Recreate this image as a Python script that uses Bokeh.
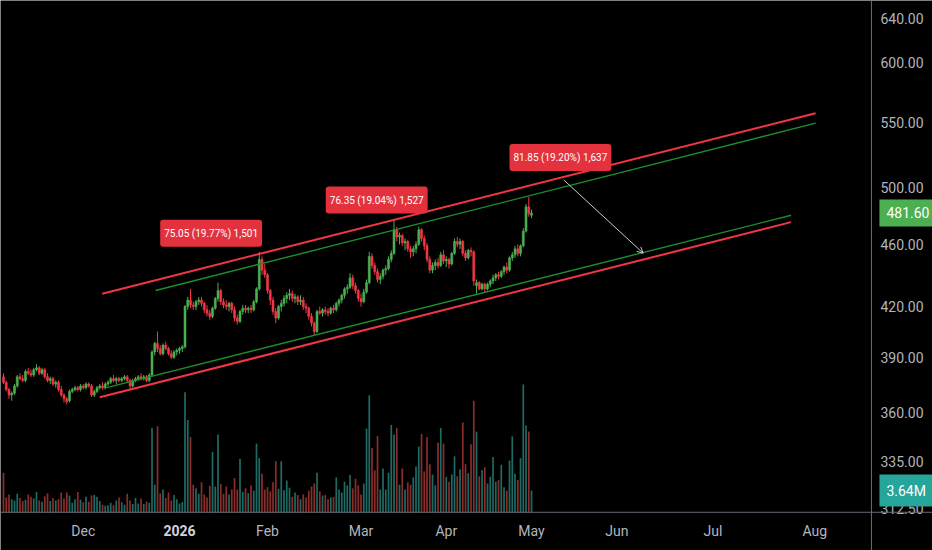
from bokeh.plotting import figure
from bokeh.models import (Range1d, FixedTicker, Label, Arrow, OpenHead, LinearScale, Span,
                          ColumnDataSource, PrintfTickFormatter)
from bokeh.embed import file_html
from bokeh.resources import INLINE

# ---------------- data ----------------
opens = [379,376,372,369,370,374,379,378,377,382,381,380,383,384,381,383,379,377,378,375,
         376,372,369,367,366,371,372,373,372,374,373,375,374,369,371,373,374,373,375,376,
         378,377,378,377,378,379,377,374,377,378,379,378,379,377,380,393,398,395,392,397,
         395,392,390,393,394,395,396,420,424,421,420,423,424,422,418,416,414,419,425,430,
         423,421,420,422,418,413,411,417,419,418,419,418,423,431,450,443,440,430,424,417,
         413,420,422,425,427,428,425,426,423,424,420,419,414,410,405,417,416,418,417,416,
         419,418,422,424,427,431,432,438,433,430,425,423,429,435,452,446,442,437,439,443,
         444,450,454,470,465,466,461,462,457,455,457,460,470,464,459,450,443,446,448,446,
         453,449,450,447,454,462,460,462,454,451,456,455,433,435,431,434,431,434,436,438,
         440,439,442,445,443,451,453,457,454,459,469,486,480]
highs = [381,377,373,371,375,380,381,380,383,384,383,384,386,385,384,384,381,379,379,377,
         377,374,370,368,372,373,374,374,375,375,376,376,375,372,374,375,376,376,377,379,
         380,379,379,379,380,380,378,378,379,380,381,380,380,381,394,399,405,397,398,399,
         396,394,394,395,396,397,421,426,431,423,424,426,426,423,421,418,420,426,435,431,
         425,424,423,423,420,415,418,421,421,420,421,424,432,455,452,447,441,431,426,419,
         421,424,427,429,431,430,428,427,427,426,422,420,416,411,418,420,419,420,419,420,
         421,423,425,428,432,434,441,440,435,431,428,431,437,455,454,448,444,441,444,446,
         452,456,477,472,468,467,464,463,459,459,462,472,471,466,461,452,448,450,451,455,
         456,452,451,455,464,465,464,463,456,457,458,456,437,436,435,435,435,437,440,441,
         442,443,446,448,452,455,459,460,460,471,488,493,484]
lows = [375,371,367,366,369,373,377,376,376,380,379,379,382,380,380,378,376,375,374,373,
        371,368,365,364,365,370,371,371,371,372,372,373,368,368,370,372,372,372,374,375,
        376,375,376,376,377,376,372,373,376,377,377,377,376,376,379,391,393,391,391,394,
        391,389,389,391,392,393,395,418,419,418,418,421,420,416,414,412,413,418,423,421,
        419,418,417,416,411,409,410,415,416,416,416,417,422,430,440,438,428,421,415,410,
        412,417,420,422,424,423,422,421,421,418,416,412,408,403,404,415,414,415,414,415,
        416,417,420,422,425,428,431,431,428,423,420,422,428,434,444,440,435,434,437,440,
        443,448,453,462,460,459,456,455,451,452,454,459,462,456,448,441,441,443,444,445,
        447,445,444,446,453,458,457,452,449,450,452,433,428,430,430,429,430,432,434,436,
        437,438,440,441,442,449,451,452,452,458,468,479,478]
closes = [376,372,369,370,374,379,378,377,382,381,380,383,384,381,383,379,377,378,375,376,
          372,369,367,365.5,371,372,373,372,374,373,375,374,369,371,373,374,373,375,376,378,
          377,378,377,378,379,377,374,377,378,379,378,379,377,380,393,398,395,392,397,395,
          392,390,393,394,395,396,420,424,421,420,423,424,422,418,416,414,419,425,430,423,
          421,420,422,418,413,411,417,419,418,419,418,423,431,450,443,440,430,424,417,413,
          420,422,425,427,428,425,426,423,424,420,419,414,410,405,417,416,418,417,416,419,
          418,422,424,427,431,432,438,433,430,425,423,429,435,452,446,442,437,439,443,444,
          450,454,470,465,466,461,462,457,455,457,460,470,464,459,450,443,446,448,446,453,
          449,450,447,454,462,460,462,454,451,456,455,436,435,431,434,431,434,436,438,440,
          439,442,445,443,451,453,457,454,459,469,486,481,481.6]
volumes_m = [6.6,2.5,3.0,2.2,2.0,3.1,2.4,1.9,2.1,3.0,2.6,2.3,3.4,2.0,1.8,2.7,3.2,1.9,2.4,2.0,
             2.2,3.3,2.3,3.3,2.8,1.6,2.2,3.4,2.1,1.7,2.6,1.8,2.8,2.9,2.6,1.9,1.3,1.1,1.2,1.6,
             1.2,2.0,2.5,1.7,1.3,3.1,2.0,1.4,2.4,1.5,2.3,1.4,1.8,1.6,14.0,4.6,14.3,3.2,3.8,2.4,
             3.3,2.0,2.9,2.2,1.5,1.7,19.9,15.3,12.5,4.6,4.0,3.1,5.0,3.0,2.5,4.4,10.0,4.3,12.9,4.7,
             3.1,4.3,3.0,3.8,5.7,3.8,8.9,3.4,4.0,3.2,4.5,3.6,11.4,9.0,6.4,3.8,4.2,3.5,5.0,8.5,
             3.9,8.5,3.7,5.3,4.1,2.6,3.3,2.9,2.2,3.0,2.5,3.6,4.3,4.8,6.6,3.5,2.8,2.9,2.2,2.5,
             2.6,5.8,3.8,3.3,5.1,4.5,6.2,4.0,5.6,4.5,3.0,4.8,13.9,19.4,10.7,7.0,12.7,3.8,7.3,3.8,
             6.6,14.5,12.9,14.0,4.6,7.3,3.8,5.0,4.6,5.8,7.6,10.9,13.0,6.8,12.5,8.0,6.3,4.5,11.6,14.0,
             11.4,5.9,5.1,6.3,9.3,6.0,7.1,14.9,8.0,6.5,11.3,18.5,13.4,6.0,7.0,7.5,4.8,5.9,9.2,5.1,
             5.4,7.9,4.2,3.6,8.6,12.6,6.4,5.4,9.0,21.2,14.4,13.4,3.64]

month_tick_bars = [29, 64, 96, 130, 161, 192, 223, 258, 295]
month_labels = ["Dec", "2026", "Feb", "Mar", "Apr", "May", "Jun", "Jul", "Aug"]
price_ticks = [312.5, 335, 360, 390, 420, 460, 500, 550, 600, 640]

# channel lines: (bar index pair, price pair)
red_upper_x, red_upper_y = [35.9, 295.3], [428.0, 557.2]
green_upper_x, green_upper_y = [55.3, 295.3], [430.0, 549.2]
green_lower_x, green_lower_y = [37.5, 286.4], [373.1, 480.0]
red_lower_x, red_lower_y = [35.0, 286.4], [367.9, 475.2]
arrow_x, arrow_y = [203.7, 232.6], [505.5, 454.1]

measure_x = [75.5, 135.7, 202.5]
measure_y = [467.5, 490.8, 522.4]
measure_text = ["75.05 (19.77%) 1,501", "76.35 (19.04%) 1,527", "81.85 (19.20%) 1,637"]

last_price_text = "481.60"
last_volume_text = "3.64M"

# ---------------- layout / styling ----------------
UP = "#4caf50"
DOWN = "#f23645"
VOL_UP = "#1d6b64"
VOL_DOWN = "#8a2d2b"
TXT = "#b2b5be"
SEP = "#6a6d78"
FONT = "Roboto"

W, H = 932, 550
x_lo, x_hi = -1.09, 337.8          # whole canvas (price scale column included)
scale_bar = 315.6                  # where the price scale column begins
y_lo, y_hi = 294.0, 657.1          # whole canvas height (time axis row included)
time_axis_price = 310.9            # where the time axis row begins
vol_lo, vol_hi = -6.29, 84.77

p = figure(width=W, height=H, x_range=Range1d(x_lo, x_hi), y_range=Range1d(y_lo, y_hi),
           y_axis_type="log", y_axis_location="right", toolbar_location=None,
           output_backend="svg", background_fill_color="#000000",
           border_fill_color="#000000", outline_line_color=None,
           min_border_left=0, min_border_top=0, min_border_right=0, min_border_bottom=0)
p.extra_y_ranges = {"vol": Range1d(vol_lo, vol_hi)}
p.extra_y_scales = {"vol": LinearScale()}
p.grid.visible = False

n = len(closes)
idx = list(range(n))
up = [c >= o for o, c in zip(opens, closes)]
src = ColumnDataSource(dict(
    x=idx, o=opens, h=highs, l=lows, c=closes,
    top=[max(o, c) for o, c in zip(opens, closes)],
    bot=[min(o, c) for o, c in zip(opens, closes)],
    col=[UP if u else DOWN for u in up],
    vcol=[VOL_UP if u else VOL_DOWN for u in up],
    vol=volumes_m))

p.vbar(x="x", width=0.62, top="vol", bottom=0, y_range_name="vol",
       fill_color="vcol", line_color=None, source=src)
p.segment(x0="x", y0="l", x1="x", y1="h", line_color="col", line_width=1, source=src)
p.vbar(x="x", width=0.72, top="top", bottom="bot", fill_color="col",
       line_color="col", line_width=0.6, source=src)

p.line(red_upper_x, red_upper_y, line_color="#f23645", line_width=2)
p.line(green_upper_x, green_upper_y, line_color="#1c8f2c", line_width=1.4)
p.line(green_lower_x, green_lower_y, line_color="#1c8f2c", line_width=1.4)
p.line(red_lower_x, red_lower_y, line_color="#f23645", line_width=2)

p.add_layout(Arrow(end=OpenHead(size=6, line_color="#c8cad0", line_width=1),
                   x_start=arrow_x[0], y_start=arrow_y[0],
                   x_end=arrow_x[1], y_end=arrow_y[1],
                   line_color="#c8cad0", line_width=1))

for mx, my, mt in zip(measure_x, measure_y, measure_text):
    p.add_layout(Label(x=mx, y=my, text=mt, text_align="center", text_baseline="middle",
                       text_color="#ffffff", text_font=FONT, text_font_size="10px",
                       background_fill_color="#e3323e",
                       padding=dict(left=4, right=4, top=8, bottom=8), border_radius=3))

# separators of the price-scale column and the time-axis row
p.add_layout(Span(location=scale_bar, dimension="height", line_color=SEP, line_width=1))
p.add_layout(Span(location=time_axis_price, dimension="width", line_color=SEP, line_width=1))

# axes (labels pulled back into the scale column / time row)
ya = p.yaxis[0]
ya.ticker = FixedTicker(ticks=price_ticks)
ya.formatter = PrintfTickFormatter(format="%.2f")
xa = p.xaxis[0]
xa.ticker = FixedTicker(ticks=month_tick_bars)
xa.major_label_overrides = {b: ("" if lab == "2026" else lab)
                            for b, lab in zip(month_tick_bars, month_labels)}
for ax in (xa, ya):
    ax.axis_line_color = None
    ax.major_tick_line_color = None
    ax.minor_tick_line_color = None
    ax.major_tick_out = 0
    ax.major_tick_in = 0
    ax.minor_tick_out = 0
    ax.minor_tick_in = 0
    ax.major_label_text_color = TXT
    ax.major_label_text_font = FONT
    ax.major_label_text_font_size = "14px"
ya.major_label_standoff = -52
xa.major_label_standoff = -28

year_bar = month_tick_bars[month_labels.index("2026")]
year_price = 302.8
p.add_layout(Label(x=year_bar, y=year_price, text="2026", text_align="center",
                   text_baseline="middle", text_color="#d1d4dc", text_font=FONT,
                   text_font_size="14px", text_font_style="bold"))

# price / volume badges on the scale
px_per_bar = W / (x_hi - x_lo)
badge_x = scale_bar + 8 / px_per_bar
badge_pad = dict(left=7, right=7, top=8, bottom=8)
p.add_layout(Label(x=badge_x, y=closes[-1], text=last_price_text, text_align="left",
                   text_baseline="middle", text_color="#ffffff", text_font=FONT,
                   text_font_size="14px", background_fill_color="#4caf50", padding=badge_pad))
p.add_layout(Label(x=badge_x, y=volumes_m[-1], y_range_name="vol", text=last_volume_text,
                   text_align="left", text_baseline="middle", text_color="#ffffff",
                   text_font=FONT, text_font_size="14px",
                   background_fill_color="#26a69a", padding=badge_pad))

open("out.html", "w").write(file_html(p, INLINE))
